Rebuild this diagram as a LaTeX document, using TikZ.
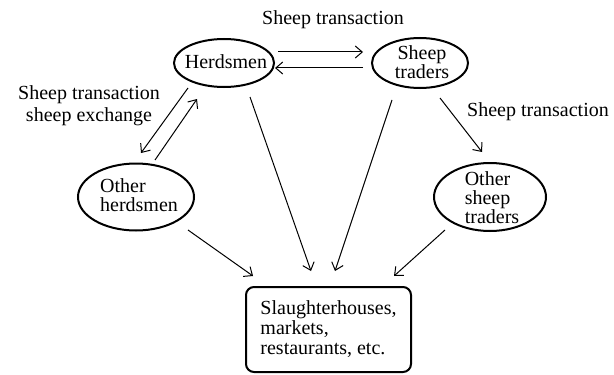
\documentclass[tikz,border=0pt]{standalone}
\usepackage{fontspec}
\setmainfont{Liberation Serif}
\usetikzlibrary{calc,arrows.meta}

\begin{document}
\begin{tikzpicture}[x=0.5pt, y=-0.5pt,
	every node/.style={font=\fontsize{10}{9.5}\selectfont, inner sep=0pt},
	ring/.style={line width=1pt},
	flow/.style={line width=0.5pt, -{Straight Barb[length=3.5pt, width=6pt]}},
	]
	\useasboundingbox (0,0) rectangle (614,374);

	% actors
	\node[align=center] (herd) at (226,62) {Herdsmen};
	\node[align=center] (trd) at (422,62) {Sheep\\traders};
	\node[align=left] (oh) at (139,195) {Other\\herdsmen};
	\node[align=left] (ots) at (492,198) {Other\\sheep\\traders};
	\draw[ring] (224,63) ellipse (25pt and 12pt);
	\draw[ring] (420,63) ellipse (24pt and 12.5pt);
	\draw[ring] (136,197) ellipse (29pt and 16.75pt);
	\draw[ring] (490,197) ellipse (28pt and 17pt);

	\node[draw, ring, rounded corners=4pt, align=left, font=\fontsize{10}{10}\selectfont,
		minimum width=82.5pt, minimum height=42.5pt] (box) at (328.5,329.5)
		{Slaughterhouses,\\markets,\\restaurants, etc.};

	% labels
	\node (lbtop) at (333,20) {Sheep transaction};
	\node[align=center, font=\fontsize{10}{11}\selectfont] (lbleft) at (89,106)
		{Sheep transaction\\sheep exchange};
	\node (lbright) at (538,112) {Sheep transaction};

	% connectors
	\draw[flow] ($(herd)+(52,-10)$) -- ($(trd)+(-59,-10)$);
	\draw[flow] ($(trd)+(-59,6)$) -- ($(herd)+(49,6)$);
	\draw[flow] ($(herd)+(-38,26)$) -- ($(oh)+(2,-42)$);
	\draw[flow] ($(oh)+(16,-35)$) -- ($(herd)+(-29,37)$);
	\draw[flow] ($(trd)+(18,36)$) -- ($(ots)+(-10,-46)$);
	\draw[flow] ($(oh)+(49,35)$) -- ($(box)+(-75.5,-53.5)$);
	\draw[flow] ($(herd)+(24,35)$) -- ($(box)+(-17.5,-58.5)$);
	\draw[flow] ($(trd)+(-30,38)$) -- ($(box)+(6.5,-58.5)$);
	\draw[flow] ($(ots)+(-47,32)$) -- ($(box)+(65.5,-53.5)$);
\end{tikzpicture}
\end{document}
